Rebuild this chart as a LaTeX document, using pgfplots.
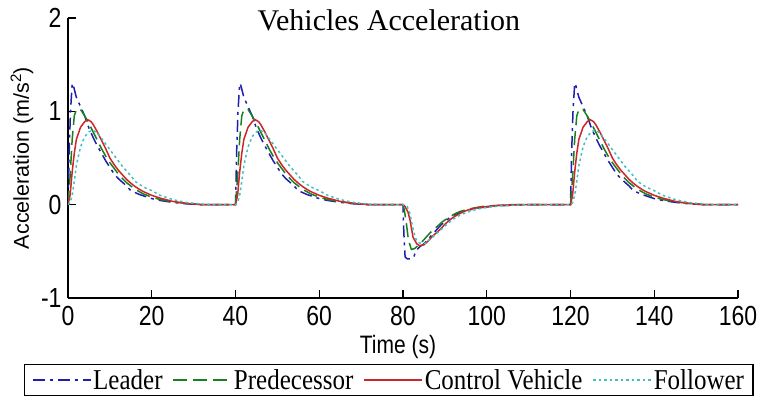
\documentclass[border=0pt]{standalone}
\usepackage{pgfplots}
\pgfplotsset{compat=1.18}
\usepackage{fontspec}
\setmainfont{Liberation Sans}
\newfontfamily\timesfont{Liberation Serif}
\definecolor{cLead}{rgb}{0.12,0.12,0.68}
\definecolor{cPred}{rgb}{0.10,0.50,0.12}
\definecolor{cCtrl}{rgb}{0.80,0.15,0.15}
\definecolor{cFoll}{rgb}{0.25,0.75,0.75}
\newcommand{\vs}[1]{\scalebox{1}[1.2]{#1}}
\newcommand{\vl}[1]{\scalebox{1}[1.15]{#1}}
\begin{document}
\begin{tikzpicture}
\path (-68pt,-103pt) rectangle (693pt,298pt);
\begin{axis}[
  at={(0,0)}, anchor=south west,
  scale only axis, width=670pt, height=280pt,
  xmin=0, xmax=160, ymin=-1, ymax=2,
  axis lines*=left, axis line style={line width=1.3pt},
  tick align=inside, major tick length=8pt,
  every tick/.style={black, line width=1.2pt},
  xtick={0,20,...,160}, ytick={-1,0,1,2},
  /pgf/number format/assume math mode=true,
  xticklabel={\vs{\pgfmathprintnumber{\tick}}},
  yticklabel={\vs{\pgfmathprintnumber{\tick}}},
  tick label style={font=\fontsize{23}{26}\selectfont},
  xticklabel style={yshift=-5pt},
  yticklabel style={xshift=-3pt},
  xlabel={\vs{Time (s)}}, ylabel={Acceleration (m/s\textsuperscript{2})},
  label style={font=\fontsize{21}{24}\selectfont},
  xlabel style={at={(axis description cs:0.4925,-0.175)}, anchor=center},
  ylabel style={at={(axis description cs:-0.0687,0.5)}, anchor=center, font=\fontsize{21.5}{24}\selectfont},
  title={Vehicles Acceleration},
  title style={font=\timesfont\fontsize{30}{33}\selectfont, at={(axis description cs:0.479,1)}, anchor=base, yshift=-19pt, inner sep=0pt},
  legend columns=4,
  legend style={font=\timesfont\fontsize{25}{28}\selectfont, at={(axis description cs:0.479,-0.293)}, anchor=center,
     draw=black, line width=1.3pt, inner xsep=7pt, inner ysep=2.5pt,
     /tikz/every even column/.append style={column sep=8pt}},
  legend image code/.code={\draw[#1, line width=1.4pt] (0pt,0pt) -- (58pt,0pt);},
  every axis plot/.append style={line width=1.5pt},
]
\addplot[cLead, dash pattern=on 12pt off 5pt on 3pt off 5pt] table {
t a
0 0
0.3 0.6
0.6 1.0
1.0 1.3
1.2 1.29
2 1.15
3 1.05
4 0.95
5 0.82
6 0.72
7 0.63
8 0.55
9 0.47
10 0.40
11 0.33
12 0.28
13 0.24
14 0.20
15 0.15
16 0.13
17 0.11
18 0.095
20 0.065
22 0.045
25 0.025
28 0.01
32 0
40 0
40.3 0.6
40.6 1.0
41.0 1.3
41.2 1.29
42 1.15
43 1.05
44 0.95
45 0.82
46 0.72
47 0.63
48 0.55
49 0.47
50 0.40
51 0.33
52 0.28
53 0.24
54 0.20
55 0.15
56 0.13
57 0.11
58 0.095
60 0.065
62 0.045
65 0.025
68 0.01
72 0
80 0
80.2 -0.3
80.5 -0.56
81 -0.58
82 -0.58
82.6 -0.56
83 -0.50
84 -0.45
85 -0.42
86 -0.37
87 -0.32
88 -0.27
89 -0.22
90 -0.18
91 -0.145
92 -0.115
93 -0.095
94 -0.08
95 -0.065
97 -0.045
99 -0.03
102 -0.015
106 -0.005
110 0
120 0
120.3 0.6
120.6 1.0
121.0 1.3
121.2 1.29
122 1.15
123 1.05
124 0.95
125 0.82
126 0.72
127 0.63
128 0.55
129 0.47
130 0.40
131 0.33
132 0.28
133 0.24
134 0.20
135 0.15
136 0.13
137 0.11
138 0.095
140 0.065
142 0.045
145 0.025
148 0.01
152 0
160 0
};
\addlegendentry{\vl{Leader}}
\addplot[cPred, dash pattern=on 14pt off 6pt] table {
t a
0 0
0.5 0.3
1 0.7
1.5 0.95
2 1.02
3 1.02
4 0.95
5 0.87
6 0.78
7 0.69
8 0.60
9 0.52
10 0.45
11 0.39
12 0.33
13 0.28
14 0.235
15 0.20
16 0.165
17 0.14
18 0.115
20 0.08
22 0.055
25 0.03
28 0.015
32 0
40 0
40.5 0.3
41 0.7
41.5 0.95
42 1.02
43 1.02
44 0.95
45 0.87
46 0.78
47 0.69
48 0.60
49 0.52
50 0.45
51 0.39
52 0.33
53 0.28
54 0.235
55 0.20
56 0.165
57 0.14
58 0.115
60 0.08
62 0.055
65 0.03
68 0.015
72 0
80 0
80.3 -0.05
80.8 -0.2
81.3 -0.38
82 -0.48
82.8 -0.47
83.5 -0.44
84.5 -0.40
85.5 -0.35
86.5 -0.30
87.5 -0.26
88.5 -0.22
89.5 -0.18
90.5 -0.15
91.5 -0.12
92.5 -0.095
93.5 -0.075
95 -0.055
97 -0.035
99 -0.02
102 -0.01
106 0
120 0
120.5 0.3
121 0.7
121.5 0.95
122 1.02
123 1.02
124 0.95
125 0.87
126 0.78
127 0.69
128 0.60
129 0.52
130 0.45
131 0.39
132 0.33
133 0.28
134 0.235
135 0.20
136 0.165
137 0.14
138 0.115
140 0.08
142 0.055
145 0.03
148 0.015
152 0
160 0
};
\addlegendentry{\vl{Predecessor}}
\addplot[cCtrl] table {
t a
0 0
0.5 0.1
1 0.35
1.5 0.55
2 0.7
3 0.83
4 0.89
4.7 0.91
5.5 0.89
6 0.86
7 0.78
8 0.69
9 0.60
10 0.50
11 0.43
12 0.37
13 0.32
14 0.27
15 0.23
16 0.195
17 0.165
18 0.14
19 0.12
20 0.10
22 0.07
25 0.035
28 0.015
32 0
40 0
40.5 0.1
41 0.35
41.5 0.55
42 0.7
43 0.83
44 0.89
44.7 0.91
45.5 0.89
46 0.86
47 0.78
48 0.69
49 0.60
50 0.50
51 0.43
52 0.37
53 0.32
54 0.27
55 0.23
56 0.195
57 0.165
58 0.14
59 0.12
60 0.10
62 0.07
65 0.035
68 0.015
72 0
80 0
80.5 -0.02
81.2 -0.08
81.7 -0.17
82.4 -0.35
83.3 -0.42
84 -0.44
85 -0.43
86 -0.39
87 -0.34
88 -0.30
89 -0.26
90 -0.21
91 -0.17
92 -0.135
93 -0.11
94 -0.085
95 -0.065
96 -0.05
98 -0.03
100 -0.02
102 -0.01
105 -0.004
108 0
120 0
120.5 0.1
121 0.35
121.5 0.55
122 0.7
123 0.83
124 0.89
124.7 0.91
125.5 0.89
126 0.86
127 0.78
128 0.69
129 0.60
130 0.50
131 0.43
132 0.37
133 0.32
134 0.27
135 0.23
136 0.195
137 0.165
138 0.14
139 0.12
140 0.10
142 0.07
145 0.035
148 0.015
152 0
160 0
};
\addlegendentry{\vl{Control Vehicle}}
\addplot[cFoll, dash pattern=on 2.5pt off 3pt] table {
t a
0 0
0.5 0.02
1 0.1
1.5 0.25
2 0.42
3 0.62
4 0.73
5 0.78
5.8 0.80
7 0.77
8 0.71
9 0.65
10 0.59
11 0.53
12 0.47
13 0.41
14 0.36
15 0.31
16 0.25
17 0.22
18 0.19
19 0.17
20 0.15
22 0.10
25 0.055
28 0.025
32 0.005
35 0
40 0
40.5 0.02
41 0.1
41.5 0.25
42 0.42
43 0.62
44 0.73
45 0.78
45.8 0.80
47 0.77
48 0.71
49 0.65
50 0.59
51 0.53
52 0.47
53 0.41
54 0.36
55 0.31
56 0.25
57 0.22
58 0.19
59 0.17
60 0.15
62 0.10
65 0.055
68 0.025
72 0.005
75 0
80 0
81 -0.02
81.5 -0.07
82 -0.17
82.5 -0.28
83 -0.36
83.5 -0.40
84.5 -0.42
85.5 -0.41
86.5 -0.37
87.5 -0.33
88.5 -0.29
89.5 -0.25
90.5 -0.21
91.5 -0.17
92.5 -0.14
93.5 -0.115
94.5 -0.095
96 -0.07
98 -0.045
100 -0.03
103 -0.015
107 -0.005
110 0
120 0
120.5 0.02
121 0.1
121.5 0.25
122 0.42
123 0.62
124 0.73
125 0.78
125.8 0.80
127 0.77
128 0.71
129 0.65
130 0.59
131 0.53
132 0.47
133 0.41
134 0.36
135 0.31
136 0.25
137 0.22
138 0.19
139 0.17
140 0.15
142 0.10
145 0.055
148 0.025
152 0.005
155 0
160 0
};
\addlegendentry{\vl{Follower}}
\end{axis}
\end{tikzpicture}
\end{document}
